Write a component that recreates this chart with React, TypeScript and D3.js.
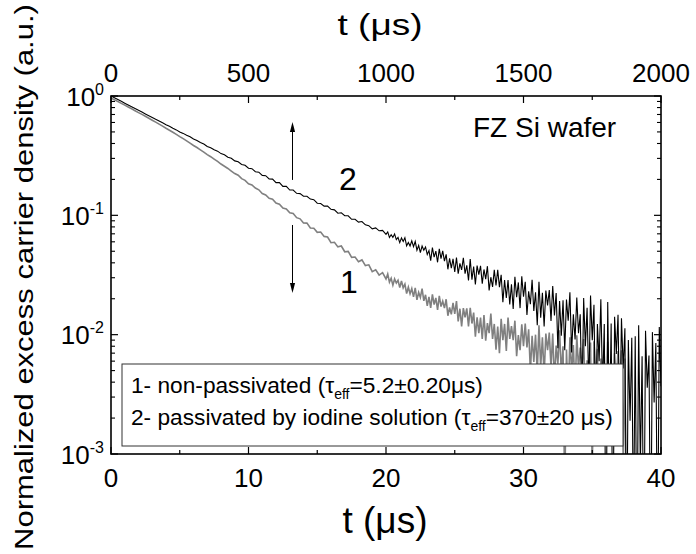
import React from "react";
import * as d3 from "d3";

// Transients are sampled every 0.25 µs up to 20 µs, then every 0.125 µs.
const earlyStepUs = 0.25;
const tailStartUs = 20;
const tailStepUs = 0.125;

// sample 1: non-passivated (gray), t = 0 … 20 µs
const nonPassivatedEarly = [
  0.962, 0.930, 0.899, 0.868, 0.838, 0.809, 0.781, 0.753, 0.726, 0.701, 0.676, 0.651, 0.627, 0.604, 0.581, 0.559,
  0.537, 0.517, 0.497, 0.477, 0.457, 0.439, 0.421, 0.403, 0.385, 0.370, 0.354, 0.339, 0.323, 0.310, 0.296, 0.283,
  0.269, 0.258, 0.247, 0.235, 0.224,
  0.2166, 0.2030, 0.1965, 0.1841, 0.1798, 0.1692, 0.1636, 0.1525, 0.1482, 0.1389, 0.1365, 0.1267, 0.1237, 0.1152,
  0.1132, 0.1049, 0.1035, 0.0956, 0.0935, 0.0863,
  0.0861, 0.0784, 0.0779, 0.0720, 0.0725, 0.0666, 0.0658, 0.0590, 0.0594, 0.0544, 0.0553, 0.0495, 0.0499, 0.0445,
  0.0447, 0.0409, 0.0423, 0.0379, 0.0385, 0.0337, 0.0349, 0.0316, 0.0331, 0.0293,
];
// sample 1: t = 20.125 … 37.5 µs
const nonPassivatedTail = [
  0.0322, 0.0275, 0.0297, 0.0260, 0.0293, 0.0271, 0.0286, 0.0248,
  0.0282, 0.0247, 0.0265, 0.0221, 0.0250, 0.0220, 0.0243, 0.0207,
  0.0247, 0.0196, 0.0226, 0.0205, 0.0243, 0.0192, 0.0216, 0.0174,
  0.0207, 0.0168, 0.0218, 0.0179, 0.0203, 0.0161, 0.0211, 0.0172,
  0.0191, 0.0167, 0.0198, 0.0144, 0.0169, 0.0148, 0.0185, 0.0149,
  0.0191, 0.0129, 0.0165, 0.0117, 0.0167, 0.0140, 0.0166, 0.0117,
  0.0168, 0.0124, 0.0153, 0.0096, 0.0140, 0.0103, 0.0139, 0.0092,
  0.0146, 0.0089, 0.0125, 0.0103, 0.0150, 0.0092, 0.0123, 0.0075,
  0.0117, 0.0070, 0.0136, 0.0090, 0.0123, 0.0073, 0.0139, 0.0092,
  0.0118, 0.0090, 0.0131, 0.0066, 0.0099, 0.0074, 0.0122, 0.0080,
  0.0124, 0.0078, 0.0111, 0.0049, 0.0098, 0.0059, 0.0100, 0.0049,
  0.0120, 0.0054, 0.0095, 0.0046, 0.0102, 0.0074, 0.0104, 0.0053,
  0.0102, 0.0040, 0.0081, 0.0057, 0.0109, 0.0047, 0.0080, 0.0004,
  0.0075, 0.0028, 0.0095, 0.0049, 0.0082, 0.0032, 0.0099, 0.0052,
  0.0078, 0.0051, 0.0092, 0.0028, 0.0061, 0.0037, 0.0086, 0.0007,
  0.0088, 0.0043, 0.0076, 0.0015, 0.0063, 0.0024, 0.0066, 0.0016,
  0.0087, 0.0022, 0.0063, 0.0014, 0.0070, 0.0042, 0.0073, 0.0022,
  0.0074, 0.0009, 0.0063, -0.001,
];

// sample 2: passivated by iodine solution (black), t = 0 … 20 µs
const passivatedEarly = [
  1.0, 0.966, 0.933, 0.902, 0.871, 0.841, 0.813, 0.785, 0.759, 0.733, 0.708, 0.684, 0.661, 0.638, 0.617, 0.596, 0.575,
  0.557, 0.537, 0.520, 0.500, 0.486, 0.468, 0.455, 0.436, 0.424, 0.407, 0.396, 0.378, 0.369, 0.354, 0.345, 0.329,
  0.322, 0.307, 0.301, 0.286, 0.281, 0.267, 0.263, 0.248, 0.246, 0.232, 0.230, 0.216, 0.215, 0.202, 0.201, 0.188,
  0.188, 0.175, 0.175, 0.163,
  0.163, 0.153, 0.152, 0.1445, 0.1446, 0.1368, 0.1353, 0.1264, 0.1257, 0.1195, 0.1197, 0.1124, 0.1111, 0.1041,
  0.1050, 0.0995, 0.0992, 0.0926, 0.0927, 0.0877, 0.0887, 0.0832, 0.0819, 0.0770, 0.0785, 0.0742, 0.0747, 0.0694,
];
// sample 2: t = 20.125 … 40 µs
const passivatedTail = [
  0.0726, 0.0652, 0.0687, 0.0653, 0.0699, 0.0625, 0.0652, 0.0590,
  0.0647, 0.0603, 0.0650, 0.0556, 0.0593, 0.0554, 0.0611, 0.0547,
  0.0604, 0.0511, 0.0559, 0.0486, 0.0553, 0.0510, 0.0543, 0.0470,
  0.0507, 0.0417, 0.0536, 0.0446, 0.0502, 0.0404, 0.0524, 0.0433,
  0.0504, 0.0414, 0.0471, 0.0353, 0.0437, 0.0361, 0.0432, 0.0335,
  0.0442, 0.0324, 0.0396, 0.0349, 0.0441, 0.0324, 0.0381, 0.0285,
  0.0430, 0.0289, 0.0372, 0.0264, 0.0379, 0.0318, 0.0377, 0.0268,
  0.0352, 0.0292, 0.0375, 0.0235, 0.0303, 0.0251, 0.0350, 0.0258,
  0.0350, 0.0250, 0.0318, 0.0187, 0.0287, 0.0203, 0.0287, 0.0179,
  0.0264, 0.0164, 0.0305, 0.0206, 0.0274, 0.0167, 0.0308, 0.0208,
  0.0277, 0.0146, 0.0231, 0.0180, 0.0289, 0.0158, 0.0227, 0.0120,
  0.0277, 0.0139, 0.0224, 0.0117, 0.0234, 0.0176, 0.0237, 0.0130,
  0.0256, 0.0145, 0.0223, 0.0077, 0.0191, 0.0098, 0.0194, 0.0074,
  0.0197, 0.0131, 0.0227, 0.0071, 0.0148, 0.0091, 0.0205, 0.0103,
  0.0148, 0.0025, 0.0203, 0.0080, 0.0168, 0.0035, 0.0213, 0.0090,
  0.0178, 0.0015, 0.0123, 0.0060, 0.0198, 0.0035, 0.0123, -0.0010,
  0.0188, 0.0016, 0.0124, -0.0007, 0.0141, 0.0069, 0.0147, 0.0015,
  0.0137, 0.0052, 0.0113, -0.0001, 0.0090, 0.0019, 0.0094, 0.0002,
  0.0097, -0.0008, 0.0120, 0.0008, 0.0066, -0.0012, 0.0108, 0.0036,
  0.0067, -0.0011, 0.0105, 0.0027, 0.0085, -0.0001, 0.0116, 0.0037,
];

const bottomMajor = [0, 10, 20, 30, 40];
const bottomMinor = [5, 15, 25, 35];
const topMajor = [0, 500, 1000, 1500, 2000];
const topMinor = [250, 750, 1250, 1750];
const yExponents = [0, -1, -2, -3];

// annotation arrow (time in µs, densities)
const arrowT = 13.2;
const arrowUp = [0.198, 0.605];
const arrowDown = [0.083, 0.0223];

const FONT = "'Liberation Sans', Arial, Helvetica, sans-serif";
const L = 111, R = 661, T = 96, B = 454;

type Pt = [number, number];
function toPoints(early: number[], tail: number[]): Pt[] {
  const pts: Pt[] = early.map((v, i) => [i * earlyStepUs, v] as Pt);
  tail.forEach((v, k) => pts.push([tailStartUs + (k + 1) * tailStepUs, v]));
  return pts;
}

export default function App() {
  const x = d3.scaleLinear().domain([0, 40]).range([L, R]);
  const xTop = d3.scaleLinear().domain([0, 2000]).range([L, R]);
  const y = d3.scaleLog().domain([1e-3, 1]).range([B, T]);
  const floor = 1e-4;
  const line = d3
    .line<Pt>()
    .x((d) => x(d[0]))
    .y((d) => y(Math.max(d[1], floor)));

  const s1 = toPoints(nonPassivatedEarly, nonPassivatedTail);
  const s2 = toPoints(passivatedEarly, passivatedTail);

  const yMinor: number[] = [];
  for (let e = -3; e < 0; e++) for (let m = 2; m <= 9; m++) yMinor.push(m * Math.pow(10, e));

  const ax = x(arrowT);
  const head = (tipY: number, dir: number) =>
    `M${ax},${tipY} L${ax - 2.6},${tipY + dir * 10} L${ax + 2.6},${tipY + dir * 10} Z`;

  return (
    <svg
      width={696}
      height={554}
      style={{ position: "absolute", left: 0, top: 0, background: "#fff" }}
      fontFamily={FONT}
    >
      <defs>
        <clipPath id="plotClip">
          <rect x={L} y={T} width={R - L} height={B - T} />
        </clipPath>
      </defs>
      <rect x={0} y={0} width={696} height={554} fill="#fff" />

      <g clipPath="url(#plotClip)" fill="none" strokeLinejoin="miter">
        <path d={line(s1) || ""} stroke="#808080" strokeWidth={1.6} />
        <path d={line(s2) || ""} stroke="#000" strokeWidth={1.1} />
      </g>

      {/* legend */}
      <rect x={122} y={364} width={501} height={82} fill="#fff" stroke="#333" strokeWidth={1} />
      <text x={131} y={393} fontSize={22.7}>
        1- non-passivated (τ
        <tspan fontSize={14} dy={6}>eff</tspan>
        <tspan dy={-6}>=5.2±0.20μs)</tspan>
      </text>
      <text x={131} y={425} fontSize={22.7}>
        2- passivated by iodine solution (τ
        <tspan fontSize={14} dy={6}>eff</tspan>
        <tspan dy={-6}>=370±20 μs)</tspan>
      </text>

      {/* annotations */}
      <text x={473} y={137} fontSize={28}>FZ Si wafer</text>
      <text x={339} y={190} fontSize={32}>2</text>
      <text x={340} y={293} fontSize={32}>1</text>
      <line x1={ax} x2={ax} y1={y(arrowUp[0])} y2={y(arrowUp[1]) + 8} stroke="#000" strokeWidth={1} />
      <path d={head(y(arrowUp[1]), 1)} fill="#000" />
      <line x1={ax} x2={ax} y1={y(arrowDown[0])} y2={y(arrowDown[1]) - 8} stroke="#000" strokeWidth={1} />
      <path d={head(y(arrowDown[1]), -1)} fill="#000" />

      {/* frame */}
      <rect x={L} y={T} width={R - L} height={B - T} fill="none" stroke="#000" strokeWidth={1.6} />

      {/* bottom axis */}
      {bottomMajor.map((v) => (
        <line key={"bM" + v} x1={x(v)} x2={x(v)} y1={B} y2={B - 7} stroke="#000" strokeWidth={1.2} />
      ))}
      {bottomMinor.map((v) => (
        <line key={"bm" + v} x1={x(v)} x2={x(v)} y1={B} y2={B - 4} stroke="#000" strokeWidth={1.2} />
      ))}
      {bottomMajor.map((v) => (
        <text key={"bl" + v} x={x(v)} y={487} fontSize={26} textAnchor="middle">{v}</text>
      ))}

      {/* top axis */}
      {topMajor.map((v) => (
        <line key={"tM" + v} x1={xTop(v)} x2={xTop(v)} y1={T} y2={T + 7} stroke="#000" strokeWidth={1.2} />
      ))}
      {topMinor.map((v) => (
        <line key={"tm" + v} x1={xTop(v)} x2={xTop(v)} y1={T} y2={T + 4} stroke="#000" strokeWidth={1.2} />
      ))}
      {topMajor.map((v) => (
        <text key={"tl" + v} x={xTop(v)} y={82} fontSize={26} textAnchor="middle">{v}</text>
      ))}

      {/* left / right axes */}
      {yExponents.map((e) => {
        const yy = y(Math.pow(10, e));
        return (
          <g key={"yM" + e}>
            <line x1={L} x2={L + 7} y1={yy} y2={yy} stroke="#000" strokeWidth={1.2} />
            <line x1={R} x2={R - 7} y1={yy} y2={yy} stroke="#000" strokeWidth={1.2} />
            <text x={104} y={yy + 9.5} fontSize={26} textAnchor="end">
              10
              <tspan fontSize={16} dy={-11}>{String(e)}</tspan>
            </text>
          </g>
        );
      })}
      {yMinor.map((v, i) => (
        <g key={"ym" + i}>
          <line x1={L} x2={L + 4} y1={y(v)} y2={y(v)} stroke="#000" strokeWidth={1.1} />
          <line x1={R} x2={R - 4} y1={y(v)} y2={y(v)} stroke="#000" strokeWidth={1.1} />
        </g>
      ))}

      {/* axis titles */}
      <text transform="translate(380,35) scale(1,0.8)" fontSize={37} textAnchor="middle">
        t (μs)
      </text>
      <text x={385} y={533} fontSize={37} textAnchor="middle">t (μs)</text>
      <text transform="translate(33,277) rotate(-90) scale(1,0.82)" fontSize={31} textAnchor="middle">
        Normalized excess carrier density (a.u.)
      </text>
    </svg>
  );
}
